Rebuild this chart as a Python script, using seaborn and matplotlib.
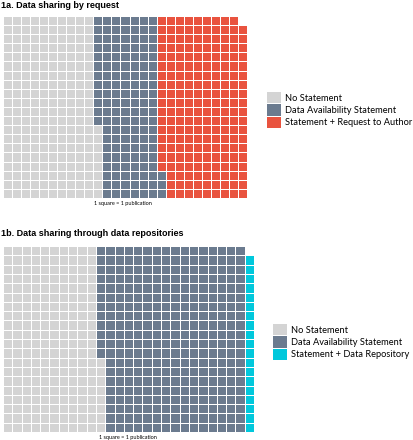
import matplotlib.pyplot as plt
import numpy as np
import seaborn as sns
from matplotlib.colors import ListedColormap
from matplotlib.patches import Patch

# Data (publication counts, 1 square = 1 publication)
labels_a = ['No Statement', 'Data Availability Statement', 'Statement + Request to Author']
counts_a = [208, 135, 196]
colors_a = ['#d4d4d4', '#6b7b8f', '#e9533f']

labels_b = ['No Statement', 'Data Availability Statement', 'Statement + Data Repository']
counts_b = [208, 312, 19]
colors_b = ['#d4d4d4', '#6b7b8f', '#00c8dc']

n_rows = 20
n_cols = 27


def waffle_grid(counts):
  # fill column by column, bottom to top
  grid = np.full((n_rows, n_cols), np.nan)
  codes = np.repeat(np.arange(len(counts)), counts)
  for i, c in enumerate(codes):
    col = i // n_rows
    row = n_rows - 1 - (i % n_rows)
    grid[row, col] = c
  return grid


def draw_waffle(ax, counts, colors):
  sns.heatmap(waffle_grid(counts), ax=ax, cmap=ListedColormap(colors),
              vmin=-0.5, vmax=len(colors) - 0.5, cbar=False,
              linewidths=0.7, linecolor='white',
              xticklabels=False, yticklabels=False)
  ax.set_aspect('auto')
  ax.axis('off')


fig = plt.figure(figsize=(4.14, 4.40), dpi=100)
W, H = 414, 440

ax1 = fig.add_axes([3 / W, 1 - 198 / H, 244 / W, 182 / H])
draw_waffle(ax1, counts_a, colors_a)
ax2 = fig.add_axes([3 / W, 1 - 432 / H, 251 / W, 186 / H])
draw_waffle(ax2, counts_b, colors_b)

fig.text(1 / W, 1 - 6 / H, '1a. Data sharing by request', fontsize=6.5,
         fontweight='bold', family='Liberation Sans', va='center', ha='left')
fig.text(1 / W, 1 - 233 / H, '1b. Data sharing through data repositories', fontsize=6.5,
         fontweight='bold', family='Liberation Sans', va='center', ha='left')

fig.text(123 / W, 1 - 203 / H, '1 square = 1 publication', fontsize=4,
         family='Lato', va='center', ha='center')
fig.text(128 / W, 1 - 437 / H, '1 square = 1 publication', fontsize=4,
         family='Lato', va='center', ha='center')

fs = 6.7
for labels, colors, x, y in [(labels_a, colors_a, 267, 110), (labels_b, colors_b, 273, 342)]:
  handles = [Patch(facecolor=c, edgecolor='none') for c in colors]
  fig.legend(handles, labels, loc='center left', bbox_to_anchor=(x / W, 1 - y / H),
             frameon=False, prop={'family': 'Lato', 'size': fs},
             handlelength=10.1 / fs, handleheight=10.1 / fs, labelspacing=0.1,
             handletextpad=0.42, borderpad=0, borderaxespad=0)

fig.savefig('out.png', dpi=100)
